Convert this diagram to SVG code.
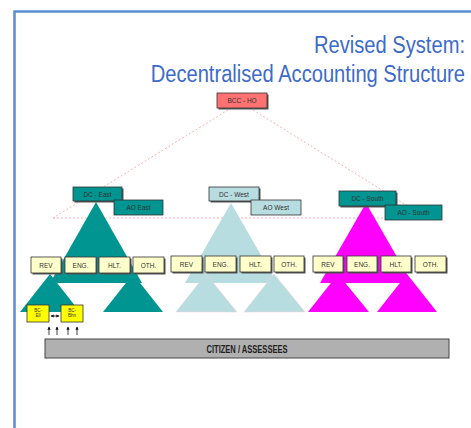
<svg xmlns="http://www.w3.org/2000/svg" width="471" height="428" viewBox="0 0 471 428">
<style>
.title{font-family:"Liberation Sans",Arial,sans-serif;font-size:23px;fill:#3D6BC9;text-anchor:end}
.lbl{font-family:"Liberation Sans",Arial,sans-serif;font-size:6.5px;fill:#333;text-anchor:middle}
.tiny{font-family:"Liberation Sans",Arial,sans-serif;font-size:4.5px;fill:#333;text-anchor:middle}
.shadow{fill:#555}
.box{stroke:#333;stroke-width:0.8}
.cream{fill:#FFFFCC}
.teal{fill:#009590}
.lblue{fill:#B8DDE0}
.mag{fill:#FF00FF}
.dash{stroke:#FF9A9A;stroke-width:0.8;stroke-dasharray:2 2;fill:none}
.arr{stroke:#111;stroke-width:0.8;fill:none}
</style>
<defs>
<marker id="ah" viewBox="0 0 6 6" refX="5" refY="3" markerWidth="4" markerHeight="4" orient="auto-start-reverse">
<path d="M0,0 L6,3 L0,6 z" fill="#111"/>
</marker>
</defs>
<rect x="0" y="0" width="471" height="428" fill="#fff"/>
<rect x="14.5" y="11.5" width="480" height="440" fill="none" stroke="#5A8ED2" stroke-width="2.5"/>
<text class="title" transform="translate(465,53) scale(0.875,1)" x="0" y="0">Revised System:</text>
<text class="title" transform="translate(465,82) scale(0.875,1)" x="0" y="0">Decentralised Accounting Structure</text>

<g id="connectors">
<line class="dash" x1="228" y1="110" x2="53" y2="218"/>
<line class="dash" x1="253" y1="110" x2="427" y2="218"/>
<line class="dash" x1="53" y1="218" x2="427" y2="218"/>
<line class="arr" x1="51" y1="316" x2="59" y2="316" marker-start="url(#ah)" marker-end="url(#ah)"/>
<line class="arr" x1="49" y1="335" x2="49" y2="327" marker-end="url(#ah)"/>
<line class="arr" x1="57" y1="335" x2="57" y2="327" marker-end="url(#ah)"/>
<line class="arr" x1="68" y1="335" x2="68" y2="327" marker-end="url(#ah)"/>
<line class="arr" x1="77" y1="335" x2="77" y2="327" marker-end="url(#ah)"/>
</g>

<g id="east-triangles">
<polygon class="teal" points="96,202 50,283 142,283"/>
<polygon class="teal" points="50,274 20,312 80,312"/>
<polygon class="teal" points="133,274 103,312 163,312"/>
</g>
<g id="west-triangles">
<polygon class="lblue" points="231,203 185,283 277,283"/>
<polygon class="lblue" points="206,274 176,312 237,312" stroke="#E8D0D8" stroke-width="0.5"/>
<polygon class="lblue" points="274,274 244,312 305,312" stroke="#E8D0D8" stroke-width="0.5"/>
</g>
<g id="south-triangles">
<polygon class="mag" points="366,203 320,283 412,283"/>
<polygon class="mag" points="338,274 308,312 369,312"/>
<polygon class="mag" points="407,274 377,312 437,312"/>
</g>

<g id="bcc-ho">
<rect class="shadow" x="218.5" y="94.5" width="50" height="15"/>
<rect class="box" x="217" y="93" width="50" height="15" fill="#FF7272"/>
<text class="lbl" x="242" y="103">BCC - HO</text>
</g>

<g id="dc-east">
<rect class="shadow" x="74.5" y="188.5" width="49" height="14"/>
<rect class="box teal" x="73" y="187" width="49" height="14"/>
<text class="lbl" x="97.5" y="196.5">DC - East</text>
</g>
<g id="ao-east">
<rect class="box teal" x="114" y="200" width="49" height="15" stroke="#008580"/>
<text class="lbl" x="138.5" y="210">AO East</text>
</g>
<g id="dc-west">
<rect class="shadow" x="210.5" y="188.5" width="50" height="14"/>
<rect class="box lblue" x="209" y="187" width="50" height="14"/>
<text class="lbl" x="234" y="196.5">DC - West</text>
</g>
<g id="ao-west">
<rect class="box lblue" x="251" y="200" width="50" height="15" stroke="#9ABCC0"/>
<text class="lbl" x="276" y="210">AO West</text>
</g>
<g id="dc-south">
<rect class="shadow" x="340.5" y="192.5" width="57" height="15"/>
<rect class="box teal" x="339" y="191" width="57" height="15"/>
<text class="lbl" x="367.5" y="201">DC - South</text>
</g>
<g id="ao-south">
<rect class="box teal" x="385" y="205" width="57" height="15" stroke="#008580"/>
<text class="lbl" x="413.5" y="215">AO - South</text>
</g>

<g id="east-rev"><rect class="shadow" x="32.5" y="258.5" width="30" height="16"/><rect class="box cream" x="31" y="257" width="30" height="16"/><text class="lbl" x="46" y="267.5">REV</text></g>
<g id="east-eng"><rect class="shadow" x="66.5" y="258.5" width="31" height="16"/><rect class="box cream" x="65" y="257" width="31" height="16"/><text class="lbl" x="80.5" y="267.5">ENG.</text></g>
<g id="east-hlt"><rect class="shadow" x="100.5" y="258.5" width="31" height="16"/><rect class="box cream" x="99" y="257" width="31" height="16"/><text class="lbl" x="114.5" y="267.5">HLT.</text></g>
<g id="east-oth"><rect class="shadow" x="134.5" y="258.5" width="31" height="16"/><rect class="box cream" x="133" y="257" width="31" height="16"/><text class="lbl" x="148.5" y="267.5">OTH.</text></g>

<g id="west-rev"><rect class="shadow" x="172.5" y="257.5" width="31" height="16"/><rect class="box cream" x="171" y="256" width="31" height="16"/><text class="lbl" x="186.5" y="266.5">REV</text></g>
<g id="west-eng"><rect class="shadow" x="206.5" y="257.5" width="31" height="16"/><rect class="box cream" x="205" y="256" width="31" height="16"/><text class="lbl" x="220.5" y="266.5">ENG.</text></g>
<g id="west-hlt"><rect class="shadow" x="241.5" y="257.5" width="31" height="16"/><rect class="box cream" x="240" y="256" width="31" height="16"/><text class="lbl" x="255.5" y="266.5">HLT.</text></g>
<g id="west-oth"><rect class="shadow" x="275.5" y="257.5" width="30" height="16"/><rect class="box cream" x="274" y="256" width="30" height="16"/><text class="lbl" x="289" y="266.5">OTH.</text></g>

<g id="south-rev"><rect class="shadow" x="314.5" y="257.5" width="30" height="16"/><rect class="box cream" x="313" y="256" width="30" height="16"/><text class="lbl" x="328" y="266.5">REV</text></g>
<g id="south-eng"><rect class="shadow" x="348.5" y="257.5" width="30" height="16"/><rect class="box cream" x="347" y="256" width="30" height="16"/><text class="lbl" x="362" y="266.5">ENG.</text></g>
<g id="south-hlt"><rect class="shadow" x="382.5" y="257.5" width="30" height="16"/><rect class="box cream" x="381" y="256" width="30" height="16"/><text class="lbl" x="396" y="266.5">HLT.</text></g>
<g id="south-oth"><rect class="shadow" x="416.5" y="257.5" width="31" height="16"/><rect class="box cream" x="415" y="256" width="31" height="16"/><text class="lbl" x="430.5" y="266.5">OTH.</text></g>

<g id="bc-ell">
<rect class="box" x="27" y="305" width="22" height="17" fill="#FFFF00"/>
<text class="tiny" x="38" y="312">BC-</text>
<text class="tiny" x="38" y="317">Ell</text>
</g>
<g id="bc-bhn">
<rect class="box" x="61" y="305" width="22" height="17" fill="#FFFF00"/>
<text class="tiny" x="72" y="312">BC-</text>
<text class="tiny" x="72" y="317">Bhn</text>
</g>

<g id="citizen">
<rect x="45" y="339" width="404" height="19" fill="#B0B0B0" stroke="#444" stroke-width="1"/>
<text transform="translate(247,352.5) scale(0.72,1)" x="0" y="0" font-family="'Liberation Sans',Arial,sans-serif" font-weight="bold" font-size="10.5" fill="#222" text-anchor="middle">CITIZEN / ASSESSEES</text>
</g>
</svg>
